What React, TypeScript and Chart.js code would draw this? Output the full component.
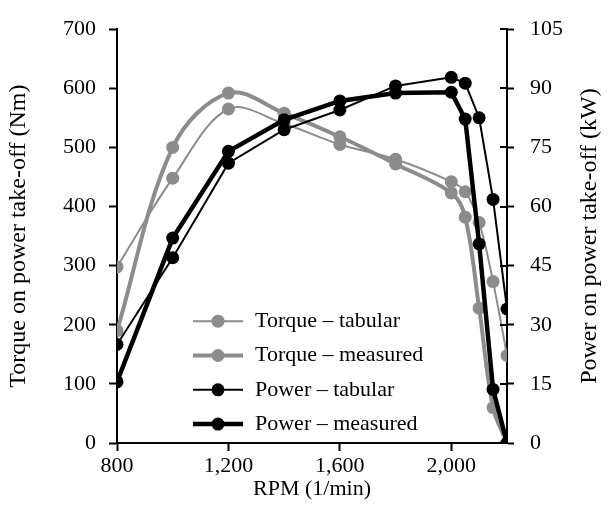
import { useEffect, useRef } from "react";
import { Chart, registerables } from "chart.js";
Chart.register(...registerables);

const rpm = [800, 1000, 1200, 1400, 1600, 1800, 2000, 2050, 2100, 2150, 2200];
const torqueTabular = [298, 448, 565, 540, 505, 480, 442, 425, 373, 273, 148];
const torqueMeasured = [190, 500, 592, 558, 518, 472, 423, 382, 228, 60, 0];
const powerTabular = [25, 47, 71, 79.5, 84.5, 90.6, 92.8, 91.3, 82.5, 61.8, 34];
const powerMeasured = [15.5, 52, 74, 82, 86.8, 88.8, 89, 82.2, 50.5, 13.6, 0];
const xTickValues = [800, 1200, 1600, 2000];
const seriesNames = ["Torque – tabular", "Torque – measured", "Power – tabular", "Power – measured"];
const leftTitle = "Torque on power take-off (Nm)";
const rightTitle = "Power on power take-off (kW)";

const FONT = "'Liberation Serif', 'Times New Roman', serif";
const GRAY = "#8c8c8c";
const BLACK = "#000000";

const toXY = (ys: number[]) => ys.map((y, i) => ({ x: rpm[i], y }));

const legendPlugin = {
  id: "innerLegend",
  afterDraw(chart: any) {
    const ctx = chart.ctx;
    const area = chart.chartArea;
    const x0 = area.left + 76;
    const y0 = area.top + 292;
    const step = 34.3;
    ctx.save();
    chart.data.datasets.forEach((ds: any, i: number) => {
      const y = y0 + i * step;
      ctx.strokeStyle = ds.borderColor;
      ctx.lineWidth = ds.borderWidth;
      ctx.beginPath();
      ctx.moveTo(x0, y);
      ctx.lineTo(x0 + 50, y);
      ctx.stroke();
      ctx.fillStyle = ds.pointBackgroundColor;
      ctx.beginPath();
      ctx.arc(x0 + 25, y, ds.pointRadius, 0, Math.PI * 2);
      ctx.fill();
      ctx.fillStyle = "#000";
      ctx.font = `22px ${FONT}`;
      ctx.textAlign = "left";
      ctx.textBaseline = "middle";
      ctx.fillText(ds.label, x0 + 62, y);
    });
    ctx.restore();
  },
};

const axisExtrasPlugin = {
  id: "axisExtras",
  afterDraw(chart: any) {
    const s = chart.scales.y1;
    const ctx = chart.ctx;
    const area = chart.chartArea;
    ctx.save();
    ctx.strokeStyle = "#000";
    ctx.lineWidth = 2;
    s.ticks.forEach((t: any) => {
      const y = Math.round(s.getPixelForValue(t.value));
      ctx.beginPath();
      ctx.moveTo(s.left - 7, y);
      ctx.lineTo(s.left, y);
      ctx.stroke();
    });
    const cy = (area.top + area.bottom) / 2;
    ctx.fillStyle = "#000";
    ctx.font = `24px ${FONT}`;
    ctx.textAlign = "center";
    ctx.textBaseline = "middle";
    ctx.translate(590, cy);
    ctx.rotate(-Math.PI / 2);
    ctx.fillText(rightTitle, 0, 0);
    ctx.restore();
  },
};

export default function App() {
  const ref = useRef<HTMLCanvasElement>(null);
  useEffect(() => {
    if (!ref.current) return;
    const mk = (label: string, data: number[], color: string, width: number, axis: string, tension: number, order: number) => ({
      label,
      data: toXY(data),
      borderColor: color,
      backgroundColor: color,
      pointBackgroundColor: color,
      pointBorderColor: color,
      pointRadius: 6.5,
      pointBorderWidth: 0,
      borderWidth: width,
      yAxisID: axis,
      tension,
      order,
      fill: false,
    });
    const chart = new Chart(ref.current, {
      type: "line",
      data: {
        datasets: [
          mk(seriesNames[0], torqueTabular, GRAY, 2, "y", 0.35, 4),
          mk(seriesNames[1], torqueMeasured, GRAY, 4, "y", 0.35, 3),
          mk(seriesNames[2], powerTabular, BLACK, 2, "y1", 0, 2),
          mk(seriesNames[3], powerMeasured, BLACK, 4.5, "y1", 0, 1),
        ],
      },
      options: {
        animation: false,
        responsive: false,
        devicePixelRatio: 1,
        layout: { padding: { top: 20, left: 0, right: 0, bottom: 0 } },
        plugins: { legend: { display: false }, tooltip: { enabled: false } },
        scales: {
          x: {
            type: "linear",
            min: 800,
            max: 2200,
            afterBuildTicks: (s: any) => {
              s.ticks = xTickValues.map((v) => ({ value: v }));
            },
            afterFit: (s: any) => {
              s.height = 80;
            },
            grid: { drawOnChartArea: false, tickLength: 8, tickColor: "#000", tickWidth: 2 },
            border: { display: true, color: "#000", width: 2 },
            ticks: {
              color: "#000",
              font: { family: FONT, size: 22 },
              padding: 2,
              maxRotation: 0,
              callback: (v: any) => Number(v).toLocaleString("en-US"),
            },
            title: {
              display: true,
              text: "RPM (1/min)",
              color: "#000",
              font: { family: FONT, size: 22 },
              padding: { top: 0, bottom: 21 },
            },
          },
          y: {
            position: "left",
            min: 0,
            max: 700,
            afterFit: (s: any) => {
              s.width = 117;
            },
            grid: { drawOnChartArea: false, tickLength: 8, tickColor: "#000", tickWidth: 2 },
            border: { display: true, color: "#000", width: 2 },
            ticks: { stepSize: 100, color: "#000", font: { family: FONT, size: 22 }, padding: 13 },
            title: {
              display: true,
              text: leftTitle,
              color: "#000",
              font: { family: FONT, size: 24 },
              padding: { top: 4, bottom: 0 },
            },
          },
          y1: {
            position: "right",
            min: 0,
            max: 105,
            afterFit: (s: any) => {
              s.width = 101;
            },
            grid: { drawOnChartArea: false, tickLength: 7, tickColor: "#000", tickWidth: 2 },
            border: { display: true, color: "#000", width: 2 },
            ticks: { stepSize: 15, color: "#000", font: { family: FONT, size: 22 }, padding: 16 },
            title: { display: false },
          },
        },
      } as any,
      plugins: [legendPlugin, axisExtrasPlugin],
    });
    return () => chart.destroy();
  }, []);
  return (
    <div style={{ position: "fixed", left: 0, top: 0, width: 608, height: 523, background: "#fff" }}>
      <canvas ref={ref} width={608} height={523} />
    </div>
  );
}
